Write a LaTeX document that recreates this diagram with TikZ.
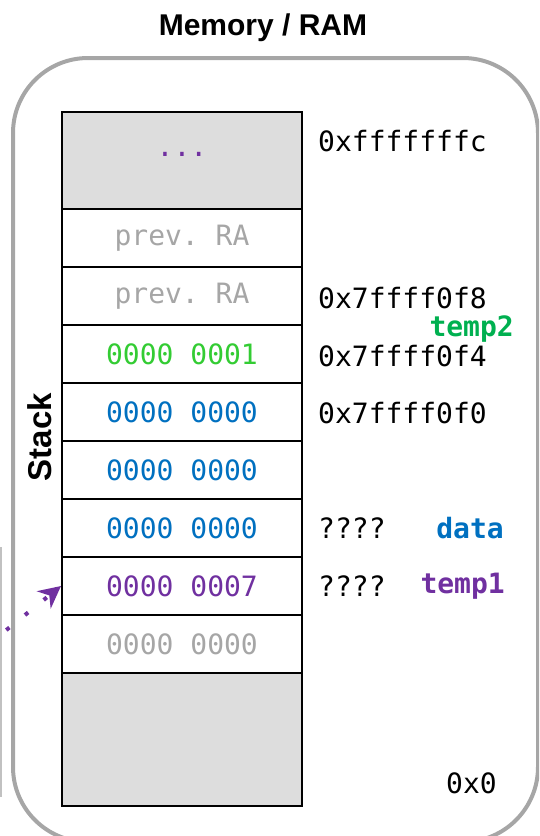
\documentclass[tikz,border=0pt]{standalone}
\usepackage{fontspec}
\setsansfont{Liberation Sans}
\setmonofont{DejaVu Sans Mono}
\usetikzlibrary{arrows.meta}

\definecolor{cellgray}{RGB}{221,221,221}
\definecolor{framegray}{RGB}{166,166,166}
\definecolor{oldgray}{RGB}{166,166,166}
\definecolor{valgreen}{RGB}{51,204,51}
\definecolor{namegreen}{RGB}{0,176,80}
\definecolor{valblue}{RGB}{0,112,192}
\definecolor{valpurple}{RGB}{112,48,160}

\tikzset{
 cell/.style={draw=black,line width=2pt,minimum width=240pt,inner sep=0pt,
   font=\fontsize{28}{30}\selectfont\ttfamily},
 addr/.style={anchor=west,inner sep=0pt,font=\fontsize{28}{30}\selectfont\ttfamily},
 varname/.style={anchor=east,inner sep=0pt,font=\fontsize{28}{30}\selectfont\ttfamily\bfseries},
 ramframe/.style={draw=framegray,line width=4pt,rounded corners=75pt},
 ptrarrow/.style={valpurple,line width=4pt,dash pattern=on 4pt off 20pt,
   -{Stealth[length=22pt,width=22pt,inset=7pt]}}
}

% name, center y, height, fill, text
\newcommand{\memcell}[5]{%
 \node[cell,minimum height=#3,fill=#4] (#1) at (182,#2) {#5};%
}

\begin{document}
\begin{tikzpicture}[x=1pt,y=-1pt]
   \useasboundingbox (0,0) rectangle (539,836);
   \clip (0,0) rectangle (539,836);
   \node[font=\fontsize{30}{32}\selectfont\sffamily\bfseries] (title) at (263,28) {Memory / RAM};
   \draw[ramframe] (13,58) rectangle (538,842);
   \draw[oldgray!70,line width=2pt] (1,547) -- (1,797);
   \node[rotate=90,font=\fontsize{33}{35}\selectfont\sffamily\bfseries] (stack) at (40,437) {Stack};
   \memcell{top}{160.5}{97pt}{cellgray}{\raisebox{12pt}{\textcolor{valpurple}{...}}}
   \memcell{ra1}{238}{58pt}{white}{\textcolor{oldgray}{prev. RA}}
   \memcell{ra2}{296}{58pt}{white}{\textcolor{oldgray}{prev. RA}}
   \memcell{t2}{354}{58pt}{white}{\textcolor{valgreen}{0000 0001}}
   \memcell{w4}{412}{58pt}{white}{\textcolor{valblue}{0000 0000}}
   \memcell{w5}{470}{58pt}{white}{\textcolor{valblue}{0000 0000}}
   \memcell{dat}{528}{58pt}{white}{\textcolor{valblue}{0000 0000}}
   \memcell{t1}{586}{58pt}{white}{\textcolor{valpurple}{0000 0007}}
   \memcell{w8}{644}{58pt}{white}{\textcolor{oldgray}{0000 0000}}
   \memcell{bot}{739.5}{133pt}{cellgray}{}
   \node[addr] (a1) at (318,141) {0xfffffffc};
   \node[addr] (a2) at (318,298) {0x7ffff0f8};
   \node[addr] (a3) at (318,356) {0x7ffff0f4};
   \node[addr] (a4) at (318,413) {0x7ffff0f0};
   \node[addr] (a5) at (318,528) {????};
   \node[addr] (a6) at (318,586) {????};
   \node[addr] (a7) at (446,783) {0x0};
   \node[varname,namegreen] (n2) at (514,329) {temp2};
   \node[varname,valblue] (nd) at (504,528) {data};
   \node[varname,valpurple] (n1) at (505,586) {temp1};
   \coordinate (ptr) at (-12.4,645.1);
   \draw[ptrarrow] (ptr) -- (t1.west);
  \end{tikzpicture}
\end{document}
